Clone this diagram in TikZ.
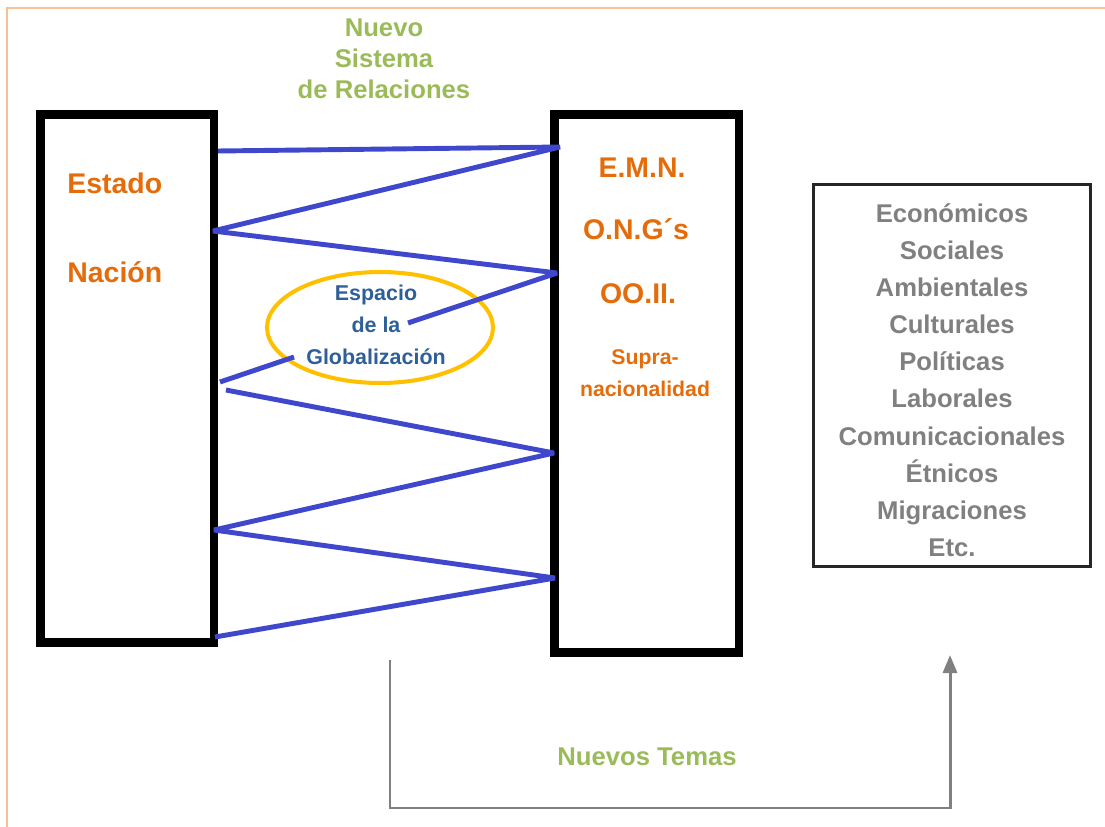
\documentclass[tikz,border=0pt]{standalone}
\usepackage{fontspec}
\setmainfont{Liberation Sans}
\usetikzlibrary{arrows.meta, shapes.geometric}
\definecolor{naranja}{HTML}{E46C0A}
\definecolor{verde}{HTML}{9BBB59}
\definecolor{azul}{HTML}{3F48CC}
\definecolor{azultexto}{HTML}{2F5F98}
\definecolor{amarillo}{HTML}{FFC000}
\definecolor{marco}{HTML}{FAC090}
\definecolor{gris}{HTML}{808080}

\begin{document}
\begin{tikzpicture}[x=0.02cm, y=-0.02cm,
        caja/.style={draw=black, line width=5.1pt},
        zigzag/.style={draw=azul, line width=2.8pt, line join=bevel},
        rotulo/.style={text=naranja, font=\bfseries\fontsize{16.2}{19}\selectfont, inner sep=0pt},
        titulo/.style={text=verde, font=\bfseries\fontsize{14.6}{17.6}\selectfont, align=center, inner sep=0pt}]
        \useasboundingbox (0,0) rectangle (1105,827);
        \draw[marco, line width=1.1pt] (7,827) -- (7,8) -- (1105,8);

        % cajas
        \node[caja, minimum width=3.47cm, minimum height=10.57cm] (estado) at (127.25,378.75) {};
        \node[caja, minimum width=3.70cm, minimum height=10.78cm] (actores) at (646.5,383.5) {};
        \node[draw=black!85, line width=1.7pt, minimum width=5.54cm, minimum height=7.64cm] (temas) at (952,375.5) {};
        \node[text=gris, font=\bfseries\fontsize{14.6}{21.15}\selectfont, align=center, inner sep=0pt] (lista) at (952,380)
              {Económicos\\Sociales\\Ambientales\\Culturales\\Políticas\\Laborales\\Comunicacionales\\Étnicos\\Migraciones\\Etc.};

        \node[rotulo, anchor=base west] (est) at (67,194) {Estado};
        \node[rotulo, anchor=base west] (nac) at (67,283) {Nación};
        \node[rotulo, anchor=base] (emn) at (642,178) {E.M.N.};
        \node[rotulo, anchor=base] (ong) at (636,240) {O.N.G´s};
        \node[rotulo, anchor=base] (ooii) at (638,304) {OO.II.};
        \node[text=naranja, font=\bfseries\fontsize{12.1}{18.1}\selectfont, align=center, inner sep=0pt] (supra) at (645,373) {Supra-\\nacionalidad};

        \node[titulo] (sistema) at (384,59) {Nuevo\\Sistema\\de Relaciones};
        \node[titulo] (nuevos) at (647,757) {Nuevos Temas};

        % espacio de la globalizacion
        \node[ellipse, draw=amarillo, line width=2.3pt, minimum width=4.52cm, minimum height=2.22cm] (glob) at (380,327.5) {};
        \node[text=azultexto, font=\bfseries\fontsize{12.2}{18.4}\selectfont, align=center, inner sep=0pt] (espacio) at (376,325) {Espacio\\de la\\Globalización};

        \coordinate (l1) at (218,151);
        \coordinate (r1) at (560,147);
        \coordinate (l2) at (213,231);
        \coordinate (r2) at (557,273);
        \coordinate (g1) at (408,323);
        \coordinate (g2) at (294,357);
        \coordinate (l3) at (220,382);
        \coordinate (l3b) at (226,390);
        \coordinate (r3) at (554,453);
        \coordinate (l4) at (214,530);
        \coordinate (r4) at (555,578);
        \coordinate (l5) at (215,637);
        \draw[zigzag] (l1) -- (r1) -- (l2) -- (r2) -- (g1);
        \draw[zigzag] (g2) -- (l3);
        \draw[zigzag] (l3b) -- (r3) -- (l4) -- (r4) -- (l5);

        % flecha de nuevos temas
        \coordinate (f0) at (390,660);
        \coordinate (f1) at (950,808);
        \coordinate (f2) at (950,655);
        \draw[gris, line width=1.7pt, -{Triangle[length=0.36cm, width=0.28cm]}] (f0) |- (f1) -- (f2);
    \end{tikzpicture}
\end{document}
